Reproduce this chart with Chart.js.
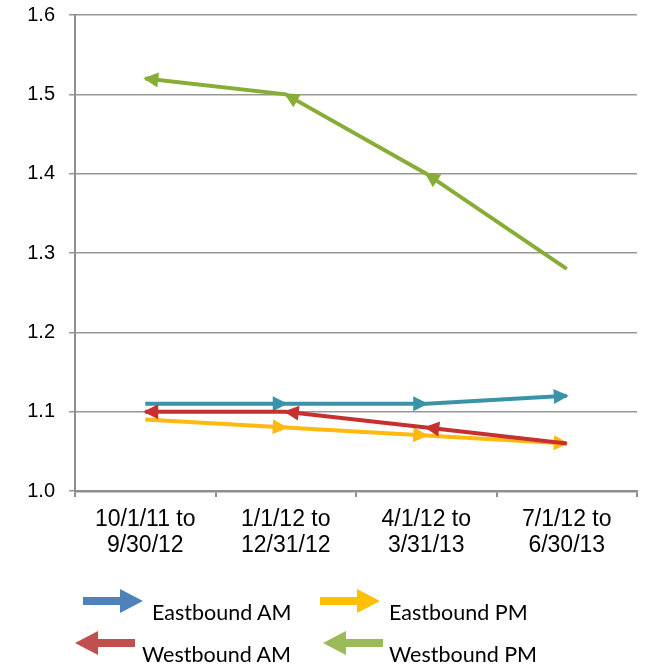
<!DOCTYPE html>
<html>
<head>
<meta charset="utf-8">
<script src="https://cdn.jsdelivr.net/npm/chart.js@4"></script>
<style>
	html, body { margin: 0; padding: 0; background: #fff; }
	#wrap { position: relative; width: 649px; height: 669px; }
	#wrap canvas { position: absolute; left: 0; top: 0; }
	.lg { position: absolute; font-family: Lato, "Open Sans", sans-serif; font-size: 21.5px; line-height: 1; color: #000; white-space: nowrap; }
</style>
</head>
<body>
<div id="wrap">
	<canvas id="ct" width="649" height="669"></canvas>
	<div id="legend"></div>
</div>
<script>
// カテゴリ（期間）
const categories = [
	['10/1/11 to', '9/30/12'],
	['1/1/12 to', '12/31/12'],
	['4/1/12 to', '3/31/13'],
	['7/1/12 to', '6/30/13']
];

// 系列の値
const eastboundAM = [1.11, 1.11, 1.11, 1.12];
const eastboundPM = [1.09, 1.08, 1.07, 1.06];
const westboundAM = [1.10, 1.10, 1.08, 1.06];
const westboundPM = [1.52, 1.50, 1.40, 1.28];

// 目盛り
const yTicks = [1.0, 1.1, 1.2, 1.3, 1.4, 1.5, 1.6];

// 線の色と凡例の色
const lineColors = { eam: '#3a93a9', epm: '#ffb90f', wam: '#c6302e', wpm: '#88ad36' };
const legendColors = { eam: '#4f81bd', epm: '#ffc000', wam: '#c0504d', wpm: '#9bbb59' };

/**
 * 各線分の終点に矢印を描くプラグイン
 */
const arrowPlugin = {
	id: 'arrows',
	afterDatasetDraw: function(chart, args) {
		const ds = chart.data.datasets[args.index];
		const pts = args.meta.data;
		const ctx = chart.ctx;
		ctx.save();
		ctx.fillStyle = ds.borderColor;
		const draw = function(from, to) {
			const ang = Math.atan2(to.y - from.y, to.x - from.x);
			const len = 15, half = 7.5;
			ctx.save();
			ctx.translate(to.x, to.y);
			ctx.rotate(ang);
			ctx.beginPath();
			ctx.moveTo(2, 0);
			ctx.lineTo(2 - len, -half);
			ctx.lineTo(2 - len, half);
			ctx.closePath();
			ctx.fill();
			ctx.restore();
		};
		if (ds.arrowDir === 'right') {
			for (let i = 1; i < pts.length; i++) draw(pts[i - 1], pts[i]);
		} else {
			for (let i = pts.length - 2; i >= 0; i--) draw(pts[i + 1], pts[i]);
		}
		ctx.restore();
	}
};

function series(label, data, color, dir, order) {
	return {
		label: label,
		data: data,
		borderColor: color,
		backgroundColor: color,
		borderWidth: 4,
		pointRadius: 0,
		tension: 0,
		fill: false,
		arrowDir: dir,
		order: order
	};
}

const chartConfig = {
	type: 'line',
	data: {
		labels: categories,
		datasets: [
			series('Eastbound AM', eastboundAM, lineColors.eam, 'right', 3),
			series('Eastbound PM', eastboundPM, lineColors.epm, 'right', 2),
			series('Westbound AM', westboundAM, lineColors.wam, 'left', 1),
			series('Westbound PM', westboundPM, lineColors.wpm, 'left', 0)
		]
	},
	options: {
		responsive: false,
		animation: false,
		layout: { padding: { left: 0, top: 15, right: 12, bottom: 108 } },
		plugins: { legend: { display: false }, tooltip: { enabled: false } },
		scales: {
			x: {
				offset: true,
				grid: { offset: true, drawOnChartArea: false, drawTicks: true, tickLength: 6, color: '#8e8e8e', lineWidth: 2 },
				border: { color: '#8e8e8e', width: 2.5 },
				ticks: {
					color: '#000',
					font: { family: '"Liberation Sans", Arial, sans-serif', size: 23, lineHeight: 1.15 },
					maxRotation: 0,
					padding: 9
				},
				afterFit: function(scale) { scale.height = 70; scale.paddingLeft = 0; scale.paddingRight = 0; }
			},
			y: {
				min: 1.0,
				max: 1.6,
				afterBuildTicks: function(scale) { scale.ticks = yTicks.map(function(v) { return { value: v }; }); },
				grid: { color: '#979797', lineWidth: 1.5, tickLength: 6 },
				border: { color: '#8e8e8e', width: 2 },
				ticks: {
					color: '#000',
					font: { family: '"Liberation Sans", Arial, sans-serif', size: 20 },
					padding: 14,
					callback: function(v) { return Number(v).toFixed(1); }
				},
				afterFit: function(scale) { scale.width = 75; scale.paddingTop = 0; scale.paddingBottom = 0; }
			}
		}
	},
	plugins: [arrowPlugin]
};

new Chart(document.getElementById('ct'), chartConfig);

// 凡例（矢印アイコン＋テキスト）
const legendItems = [
	{ text: 'Eastbound AM', color: legendColors.eam, dir: 'right', ax: 83, ay: 589, tx: 152, ty: 602 },
	{ text: 'Eastbound PM', color: legendColors.epm, dir: 'right', ax: 320, ay: 589, tx: 389, ty: 602 },
	{ text: 'Westbound AM', color: legendColors.wam, dir: 'left', ax: 75, ay: 631, tx: 142, ty: 644 },
	{ text: 'Westbound PM', color: legendColors.wpm, dir: 'left', ax: 323, ay: 631, tx: 389, ty: 644 }
];

const legendEl = document.getElementById('legend');
legendItems.forEach(function(it) {
	const pts = it.dir === 'right'
		? '0,8 37,8 37,0 60,12 37,24 37,16 0,16'
		: '60,8 23,8 23,0 0,12 23,24 23,16 60,16';
	const icon = document.createElementNS('http://www.w3.org/2000/svg', 'svg');
	icon.setAttribute('width', '60');
	icon.setAttribute('height', '24');
	icon.style.left = it.ax + 'px';
	icon.style.top = it.ay + 'px';
	icon.style.position = 'absolute';
	icon.innerHTML = '<polygon points="' + pts + '" fill="' + it.color + '"/>';
	legendEl.appendChild(icon);

	const label = document.createElement('div');
	label.className = 'lg';
	label.style.left = it.tx + 'px';
	label.style.top = it.ty + 'px';
	label.textContent = it.text;
	legendEl.appendChild(label);
});
</script>
</body>
</html>
